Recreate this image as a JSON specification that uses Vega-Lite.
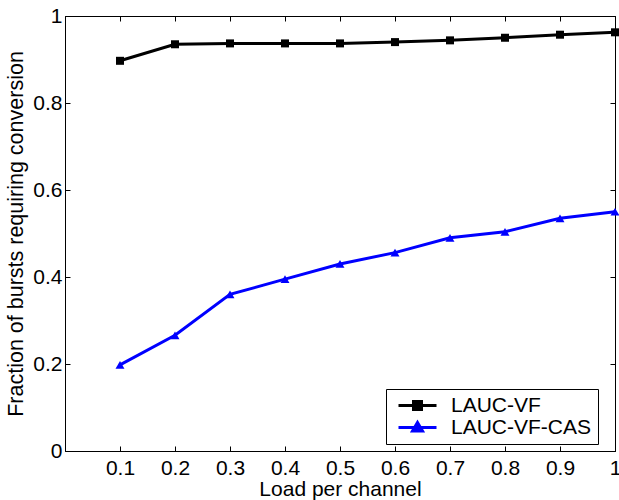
{
  "$schema": "https://vega.github.io/schema/vega-lite/v6.json",
  "width": 550,
  "height": 435,
  "autosize": {"type": "none"},
  "padding": {"left": 65, "top": 16, "right": 4, "bottom": 49},
  "background": "white",
  "config": {
    "view": {"stroke": "black", "strokeWidth": 1},
    "font": "Liberation Sans",
    "axis": {
      "grid": false,
      "domainColor": "black",
      "tickColor": "black",
      "tickSize": -5,
      "labelFont": "Liberation Sans",
      "labelFontSize": 21,
      "labelColor": "black",
      "titleFont": "Liberation Sans",
      "titleFontSize": 21,
      "titleFontWeight": "normal",
      "titleColor": "black"
    }
  },
  "data": {
    "values": [
      {"load": 0.1, "fraction": 0.897, "series": "LAUC-VF"},
      {"load": 0.2, "fraction": 0.935, "series": "LAUC-VF"},
      {"load": 0.3, "fraction": 0.937, "series": "LAUC-VF"},
      {"load": 0.4, "fraction": 0.937, "series": "LAUC-VF"},
      {"load": 0.5, "fraction": 0.937, "series": "LAUC-VF"},
      {"load": 0.6, "fraction": 0.940, "series": "LAUC-VF"},
      {"load": 0.7, "fraction": 0.944, "series": "LAUC-VF"},
      {"load": 0.8, "fraction": 0.950, "series": "LAUC-VF"},
      {"load": 0.9, "fraction": 0.957, "series": "LAUC-VF"},
      {"load": 1.0, "fraction": 0.9625, "series": "LAUC-VF"},
      {"load": 0.1, "fraction": 0.198, "series": "LAUC-VF-CAS"},
      {"load": 0.2, "fraction": 0.266, "series": "LAUC-VF-CAS"},
      {"load": 0.3, "fraction": 0.360, "series": "LAUC-VF-CAS"},
      {"load": 0.4, "fraction": 0.395, "series": "LAUC-VF-CAS"},
      {"load": 0.5, "fraction": 0.430, "series": "LAUC-VF-CAS"},
      {"load": 0.6, "fraction": 0.456, "series": "LAUC-VF-CAS"},
      {"load": 0.7, "fraction": 0.490, "series": "LAUC-VF-CAS"},
      {"load": 0.8, "fraction": 0.504, "series": "LAUC-VF-CAS"},
      {"load": 0.9, "fraction": 0.535, "series": "LAUC-VF-CAS"},
      {"load": 1.0, "fraction": 0.550, "series": "LAUC-VF-CAS"}
    ]
  },
  "resolve": {"axis": {"x": "independent", "y": "independent"}},
  "layer": [
    {
      "mark": {"type": "line", "strokeWidth": 3},
      "encoding": {
        "x": {
          "field": "load", "type": "quantitative",
          "scale": {"domain": [0, 1], "nice": false, "zero": false},
          "axis": {"orient": "bottom", "title": "Load per channel", "values": [0.1, 0.2, 0.3, 0.4, 0.5, 0.6, 0.7, 0.8, 0.9, 1], "format": "~g", "labelPadding": 11, "titlePadding": 0, "labelFlush": false}
        },
        "y": {
          "field": "fraction", "type": "quantitative",
          "scale": {"domain": [0, 1], "nice": false},
          "axis": {"orient": "left", "title": "Fraction of bursts requiring conversion", "titleFontSize": 21.5, "values": [0, 0.2, 0.4, 0.6, 0.8, 1], "labelPadding": 8, "titlePadding": 5, "labelFlush": false, "format": "~g"}
        },
        "color": {
          "field": "series", "type": "nominal",
          "scale": {"domain": ["LAUC-VF", "LAUC-VF-CAS"], "range": ["black", "blue"]},
          "legend": {
            "title": null,
            "orient": "none",
            "legendX": 321,
            "legendY": 373,
            "strokeColor": "black",
            "fillColor": "white",
            "padding": 6,
            "rowPadding": 0,
            "symbolSize": 100,
            "symbolOffset": 15,
            "symbolStrokeWidth": 3,
            "labelFontSize": 21,
            "labelFont": "Liberation Sans",
            "labelColor": "black",
            "labelOffset": 23,
            "encode": {
              "symbols": {
                "update": {
                  "shape": {"signal": "datum.value === 'LAUC-VF' ? 'M-3.8,0L3.8,0M-0.8,-0.8L0.8,-0.8L0.8,0.8L-0.8,0.8Z' : 'M-3.8,0L3.8,0M0,-1L1,0.7L-1,0.7Z'"},
                  "fill": {"signal": "datum.value === 'LAUC-VF' ? 'black' : 'blue'"}
                }
              }
            }
          }
        }
      }
    },
    {
      "transform": [{"filter": "datum.series === 'LAUC-VF'"}],
      "mark": {"type": "point", "filled": true, "opacity": 1, "shape": "square", "size": 64, "color": "black"},
      "encoding": {
        "x": {
          "field": "load", "type": "quantitative",
          "scale": {"domain": [0, 1], "nice": false, "zero": false},
          "axis": {"orient": "top", "title": null, "labels": false, "values": [0.1, 0.2, 0.3, 0.4, 0.5, 0.6, 0.7, 0.8, 0.9, 1]}
        },
        "y": {
          "field": "fraction", "type": "quantitative",
          "scale": {"domain": [0, 1], "nice": false},
          "axis": {"orient": "right", "title": null, "labels": false, "values": [0, 0.2, 0.4, 0.6, 0.8, 1]}
        }
      }
    },
    {
      "transform": [{"filter": "datum.series === 'LAUC-VF-CAS'"}],
      "mark": {"type": "point", "filled": true, "opacity": 1, "shape": "triangle-up", "size": 80, "color": "blue"},
      "encoding": {
        "x": {"field": "load", "type": "quantitative", "axis": null},
        "y": {"field": "fraction", "type": "quantitative", "axis": null}
      }
    }
  ]
}
